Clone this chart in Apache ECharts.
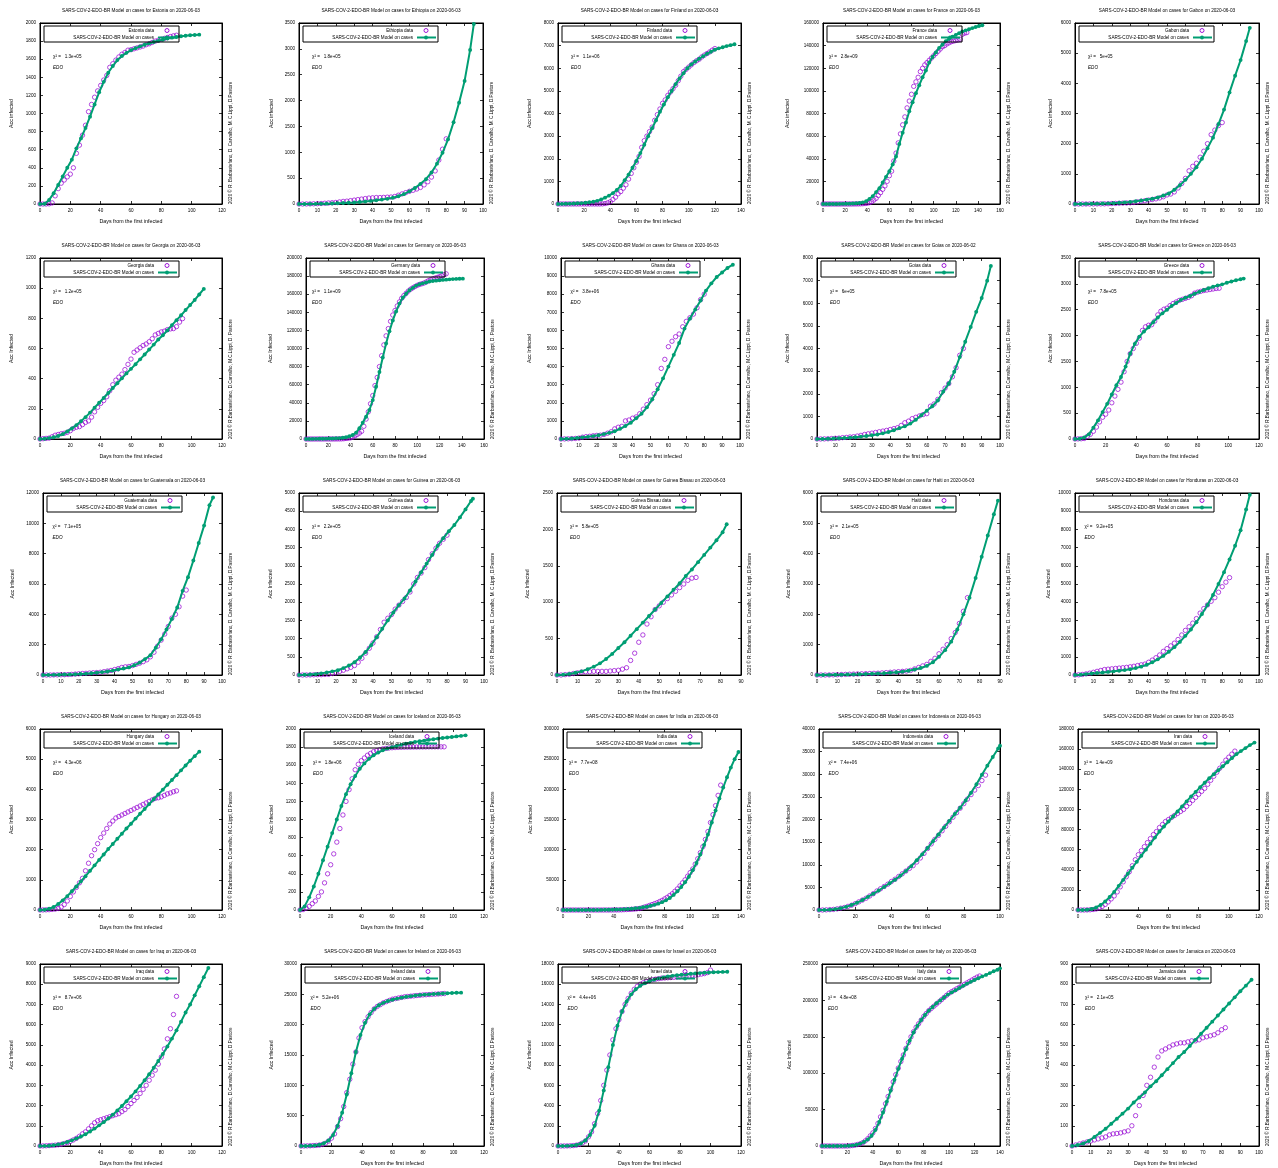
<!DOCTYPE html>
<html><head><meta charset="utf-8">
<script src="https://cdn.jsdelivr.net/npm/echarts@6/dist/echarts.min.js"></script>
<style>html,body{margin:0;padding:0;background:#fff}#c{width:1278px;height:1168px}</style>
</head><body><div id="c"></div>
<script>
const DATA_STEP = 2;   // data arrays: one value every 2 days from day 0
const MODEL_STEP = 3;  // model arrays: one value every 3 days from day 0 (last value at modelLastDay)

const countries = ['Estonia','Ethiopia','Finland','France','Gabon','Georgia','Germany','Ghana','Goias','Greece','Guatemala','Guinea','Guinea Bissau','Haiti','Honduras','Hungary','Iceland','India','Indonesia','Iran','Iraq','Ireland','Israel','Italy','Jamaica'];
const reportDates = ['2020-06-03','2020-06-03','2020-06-03','2020-06-03','2020-06-03','2020-06-03','2020-06-03','2020-06-03','2020-06-02','2020-06-03','2020-06-03','2020-06-03','2020-06-03','2020-06-03','2020-06-03','2020-06-03','2020-06-03','2020-06-03','2020-06-03','2020-06-03','2020-06-03','2020-06-03','2020-06-03','2020-06-03','2020-06-03'];
const chiSquared = ['1.3e+05','1.8e+05','1.1e+06','2.8e+09','5e+05','1.2e+05','1.1e+09','3.8e+06','6e+05','7.8e+05','7.1e+05','2.2e+05','5.8e+05','2.1e+05','9.2e+05','4.3e+06','1.8e+06','7.7e+08','7.4e+06','1.4e+09','8.7e+06','5.2e+06','4.4e+06','4.8e+08','2.1e+05'];
const xMax  = [120,100,140,160,100,120,160,100,100,120,100,100,90,90,100,120,120,140,100,120,120,120,120,140,100];
const xStep = [20,10,20,20,10,20,20,10,10,20,10,10,10,10,10,20,20,20,20,20,20,20,20,20,10];
const yMax  = [2000,3500,8000,160000,6000,1200,200000,10000,8000,3500,12000,5000,2500,6000,10000,6000,2000,300000,40000,180000,9000,30000,18000,250000,900];
const yStep = [200,500,1000,20000,1000,200,20000,1000,1000,500,2000,500,500,1000,1000,1000,200,50000,5000,20000,1000,5000,2000,50000,100];
const modelLastDay = [105,95,135,144,95,108,141,96,95,110,95,94,83,89,95,105,108,138,100,117,111,105,111,140,96];

const estoniaData = [0,0,0,2,12,90,170,230,265,300,330,400,560,650,760,870,1020,1100,1180,1250,1310,1370,1420,1510,1550,1590,1625,1655,1675,1700,1705,1715,1725,1735,1745,1760,1770,1785,1800,1810,1820,1830,1840,1850,1858,1865];
const estoniaModel = [0,2,45,118,210,305,400,490,615,725,840,965,1100,1235,1350,1450,1525,1590,1635,1670,1700,1722,1742,1760,1775,1790,1803,1815,1828,1838,1846,1853,1859,1864,1868,1871];
const ethiopiaData = [0,0,1,2,4,6,10,15,20,25,30,40,50,55,65,75,85,95,105,115,120,125,125,128,132,135,145,170,195,220,245,265,290,320,370,430,520,640,850,1060,1260];
const ethiopiaModel = [0,1,2,3,5,7,10,14,18,24,30,38,48,60,72,85,100,120,150,190,245,310,390,480,610,780,990,1250,1580,1960,2380,2980,3480];
const finlandData = [1,1,1,1,1,1,1,1,1,1,1,1,1,1,1,1,2,5,20,50,100,200,300,450,550,700,850,1100,1350,1600,1850,2100,2500,2800,3000,3200,3400,3700,3950,4200,4450,4600,4800,4950,5100,5250,5450,5650,5850,5950,6050,6150,6250,6330,6400,6500,6580,6650,6720,6800,6870];
const finlandModel = [0,5,10,15,20,30,40,55,75,100,140,200,280,370,480,620,800,1050,1300,1600,1900,2250,2620,3000,3350,3700,4080,4400,4720,5000,5300,5550,5780,6000,6170,6300,6420,6530,6640,6730,6820,6880,6930,6980,7020,7060];
const franceData = [0,0,0,0,0,0,0,0,0,0,0,0,0,10,20,50,100,150,250,400,700,1200,2000,3500,5000,7500,10000,13000,16000,20000,25000,29000,38000,45000,54000,62000,70000,77000,85000,91000,97000,104000,108000,112000,117000,120000,123000,125000,127000,129000,131000,133000,135000,137000,139000,140000,141500,142500,143500,144000,144500,145000,145500,150000,151000,151500];
const franceModel = [0,0,0,0,0,100,150,200,300,400,600,900,1400,2500,4500,7000,10500,14000,19000,24000,29000,35000,42000,53000,63000,72000,82000,90000,98000,105000,112000,118000,125000,130000,134000,138000,141000,144000,146000,148000,149500,151000,152500,153500,154500,155500,156500,157300,158000];
const gabonData = [0,0,0,0,1,2,3,4,6,10,15,20,25,30,35,40,50,70,90,110,130,150,170,200,240,300,330,400,530,680,850,1100,1250,1350,1550,1750,2000,2300,2450,2600,2700];
const gabonModel = [0,2,5,8,12,16,22,30,40,55,70,90,115,145,175,215,280,350,470,620,800,1000,1220,1500,1850,2200,2650,3130,3700,4250,4770,5400,5840];
const georgiaData = [0,2,4,6,15,25,30,35,38,44,55,70,78,82,95,110,120,145,180,210,236,255,280,320,360,390,410,430,460,495,530,575,590,605,620,630,645,665,690,700,710,715,725,730,732,745,775,798];
const georgiaModel = [0,2,6,12,20,32,50,70,92,118,145,175,208,240,272,305,338,370,402,435,465,496,528,560,593,626,660,688,720,755,788,820,855,888,922,958,995];
const germanyData = [0,0,0,0,0,10,15,16,16,16,16,16,16,20,50,100,150,300,600,900,1300,2000,3500,5000,6500,8500,14000,22000,30000,39000,48000,59000,68000,80000,92000,104000,114000,122000,130000,137000,142000,147000,151500,155500,158500,161000,163500,165500,167000,168500,169800,170800,171500,172300,173500,174800,176000,177000,177800,178600,179300,180500,181500,182500];
const germanyModel = [0,50,100,150,200,300,400,500,600,800,1000,1400,2000,3000,4400,7000,11800,18000,24600,32000,43000,57700,74000,90000,105500,119000,131000,141000,149600,156000,160500,164300,167000,169500,171000,172000,173000,174000,174600,175000,175400,175800,176100,176400,176700,176900,177100,177200];
const ghanaData = [0,5,10,20,30,50,100,130,150,180,200,210,250,320,400,560,650,700,1000,1050,1150,1220,1400,1650,1900,2150,2500,3000,3900,4400,5100,5400,5650,5800,6200,6500,6700,6900,7250,7700,8000];
const ghanaModel = [0,10,30,60,90,120,160,210,270,340,430,560,720,900,1150,1400,1750,2200,2750,3350,4000,4650,5300,6100,6650,7150,7650,8200,8600,8950,9200,9450,9630];
const goiasData = [0,2,5,10,20,30,40,60,70,90,100,130,160,200,230,260,290,320,350,380,420,460,500,600,720,790,900,960,1020,1080,1120,1450,1550,1750,2050,2250,2450,2750,3150,3700,4000];
const goiasModel = [0,5,12,20,30,45,60,80,105,135,165,200,250,310,390,480,560,680,850,1050,1250,1450,1700,2100,2450,2970,3620,4300,4950,5620,6230,7000,7650];
const greeceData = [0,2,5,10,50,90,150,230,330,420,480,560,700,830,960,1100,1300,1500,1650,1750,1850,1950,2100,2170,2200,2210,2280,2400,2470,2510,2530,2580,2620,2650,2680,2700,2720,2740,2770,2820,2840,2855,2870,2880,2890,2900,2910,2915];
const greeceModel = [0,5,30,90,220,360,520,680,860,1040,1200,1400,1650,1840,1980,2080,2160,2260,2350,2430,2500,2574,2630,2690,2730,2765,2810,2845,2880,2915,2945,2970,2990,3020,3045,3070,3090,3102];
const guatemalaData = [0,0,0,5,10,15,20,30,40,60,80,100,110,130,150,160,180,220,260,300,360,420,500,540,560,620,700,780,880,1000,1200,1500,1900,2300,2700,3200,3750,4000,4500,5200,5600];
const guatemalaModel = [0,5,10,20,30,40,50,70,90,120,150,190,230,290,360,430,500,640,815,1050,1300,1800,2350,3000,3700,4450,5550,6450,7550,8700,9850,11200,11700];
const guineaData = [0,0,0,2,5,8,10,15,20,40,60,100,130,170,210,260,350,460,600,734,880,1050,1250,1450,1560,1660,1810,1920,2020,2130,2280,2500,2680,2800,2950,3170,3330,3480,3620,3730,3840];
const guineaModel = [0,5,12,25,45,70,100,130,190,260,350,480,630,820,1040,1270,1500,1720,1920,2100,2320,2570,2820,3060,3300,3550,3760,3950,4120,4330,4550,4780,4844];
const guineaBissauData = [0,0,5,10,20,30,40,45,45,50,50,50,50,55,60,65,80,100,200,300,450,550,700,800,900,950,1000,1050,1100,1150,1200,1250,1300,1330,1340];
const guineaBissauModel = [0,5,15,30,50,80,115,160,220,290,370,450,540,630,720,810,900,990,1080,1170,1260,1360,1450,1550,1650,1750,1850,1960,2070];
const haitiData = [0,0,0,2,5,8,15,20,25,30,35,40,45,50,55,60,70,80,90,100,110,120,130,150,200,250,300,350,450,550,700,850,1000,1200,1400,1700,2100,2550];
const haitiModel = [0,2,5,8,12,16,20,25,32,40,50,60,75,90,110,140,180,230,300,420,600,820,1100,1500,2000,2550,3200,3900,4600,5300,5750];
const hondurasData = [0,10,30,60,100,150,200,250,300,320,340,360,380,400,420,450,480,520,560,600,700,820,950,1100,1300,1450,1600,1750,1950,2200,2450,2650,2850,3100,3400,3650,3850,4050,4250,4550,4850,5100,5350];
const hondurasModel = [0,20,50,80,110,140,170,200,230,270,320,380,460,560,700,860,1050,1280,1530,1820,2150,2500,2900,3350,3850,4400,5000,5650,6350,7100,7950,9100,9900];
const hungaryData = [0,2,5,10,20,30,50,100,180,300,450,600,750,900,1050,1300,1550,1800,2000,2200,2400,2550,2700,2850,2950,3050,3100,3150,3200,3250,3300,3350,3400,3450,3500,3550,3600,3650,3700,3720,3750,3800,3850,3880,3920,3950];
const hungaryModel = [0,10,40,100,200,320,460,620,780,950,1120,1300,1480,1660,1840,2020,2190,2360,2530,2700,2860,3030,3190,3350,3510,3670,3830,3990,4150,4310,4470,4630,4790,4950,5100,5250];
const icelandData = [0,5,20,40,70,100,150,200,300,400,500,620,750,900,1050,1200,1330,1450,1550,1610,1650,1680,1710,1730,1750,1760,1770,1780,1785,1790,1793,1795,1797,1798,1799,1800,1800,1801,1801,1802,1802,1802,1803,1803,1803,1803,1803,1803];
const icelandModel = [0,40,140,260,400,550,700,850,1000,1150,1280,1390,1480,1560,1620,1670,1710,1740,1765,1785,1800,1812,1825,1837,1847,1856,1864,1872,1880,1887,1894,1900,1906,1912,1918,1924,1930];
const indiaData = [0,0,0,0,0,0,0,0,0,0,0,0,0,0,0,1,3,5,10,30,60,100,150,300,500,700,900,1200,1500,2000,2500,3500,4800,6000,7500,9000,10500,12000,14000,16000,18500,21000,24000,27000,31000,35000,40000,45000,50000,56000,62000,68000,76000,85000,95000,105000,117000,130000,145000,158000,173000,190000,207000];
const indiaModel = [0,0,0,0,0,0,0,0,50,100,200,300,400,600,800,1000,1300,1700,2200,2800,3500,4500,5500,7000,8500,10500,13000,16000,20000,25000,31000,38000,46000,55000,66000,78000,92000,108000,125000,145000,165000,185000,203000,220000,236000,250000,262000];
const indonesiaData = [0,2,30,80,130,250,400,550,800,1050,1400,1800,2200,2600,3100,3600,4200,4700,5200,5700,6300,6800,7400,8000,8600,9200,9800,10600,11500,12500,13600,14600,15600,16500,17500,18500,19500,20500,21500,22500,23500,24500,25500,26500,27500,28600,29800];
const indonesiaModel = [0,20,80,200,400,700,1100,1600,2200,2900,3600,4300,5100,5900,6700,7600,8600,9700,11000,12300,13700,15200,16700,18200,19700,21200,22600,24200,25900,27800,29900,31900,33800,35700,36300];
const iranData = [0,0,10,50,200,500,1000,2000,3500,5500,8000,11000,14000,18000,23000,28000,33000,38000,44000,50000,55000,59000,63000,67000,71000,75000,78000,82000,85000,88000,90000,92000,94000,96000,98000,100000,103000,106000,109000,112000,115000,118000,121000,125000,129000,133000,137000,141000,145000,149000,152000,155000,158000];
const iranModel = [0,50,300,1000,2500,5000,8500,13000,18000,24000,30000,36000,42000,48000,54000,60000,66000,72000,78000,83000,88000,93000,98000,103000,108000,113000,117500,122000,126500,131000,135000,139000,143000,147000,151000,155000,158000,161000,164000,166500];
const iraqData = [0,5,10,20,30,40,60,80,120,170,230,300,380,480,600,700,850,1000,1150,1250,1300,1350,1400,1450,1500,1550,1600,1700,1800,1950,2100,2250,2400,2600,2800,3000,3250,3500,3750,4050,4400,4800,5300,5800,6500,7400];
const iraqModel = [0,5,15,40,80,130,200,280,370,470,580,720,860,1020,1180,1360,1550,1760,1980,2210,2450,2700,2970,3250,3550,3870,4200,4550,4920,5310,5720,6150,6600,7000,7450,7900,8350,8800];
const irelandData = [0,5,20,40,70,100,150,250,450,800,1300,2000,3200,4500,6500,8800,11000,13500,15500,17800,19500,20500,21300,22000,22600,23000,23300,23600,23800,24000,24200,24300,24400,24500,24600,24650,24700,24750,24800,24850,24900,24930,24960,25000,25030,25060,25100,25130];
const irelandModel = [0,10,30,80,200,450,900,1800,3300,5500,8500,12000,15500,18300,20300,21700,22600,23200,23600,23900,24100,24300,24450,24600,24700,24800,24880,24950,25000,25050,25100,25140,25180,25220,25250,25280];
const israelData = [0,2,5,10,20,40,80,150,300,500,900,1400,2200,3200,4500,6000,7500,9000,10500,11600,12500,13300,14000,14600,15100,15500,15800,16000,16150,16250,16350,16450,16500,16550,16600,16620,16640,16660,16680,16700,16720,16740,16760,16800,16850,16900,16950,17000,17050,17150,17400];
const israelModel = [0,5,15,40,100,250,550,1100,2000,3500,5500,7800,10000,11900,13300,14300,15000,15500,15850,16100,16300,16450,16580,16680,16760,16830,16890,16940,16990,17030,17070,17100,17130,17160,17180,17200,17220,17240];
const italyData = [2,2,2,2,3,3,3,3,3,3,3,300,700,1200,2000,3000,4500,7000,10000,14000,18000,24000,31000,40000,49000,58000,68000,78000,88000,98000,107000,116000,125000,134000,142000,150000,157000,163000,168000,173000,178000,182000,186000,189000,192000,195000,198000,201000,204000,207000,210000,212000,214000,216000,218000,220000,222000,224000,226000,228000,230000,232000,233500];
const italyModel = [0,0,0,0,10,50,150,400,900,1800,3200,5500,9000,14000,22000,33000,46000,61000,76000,91000,106000,120000,133000,145000,156000,165000,173000,180000,186000,191000,196000,200000,204000,208000,211000,214000,217000,220000,223000,225500,228000,230500,233000,235000,237500,240000,242000,244000];
const jamaicaData = [0,5,10,15,20,25,30,35,40,45,55,60,62,65,70,75,100,150,200,250,300,340,390,440,470,480,490,500,505,510,510,515,520,520,525,535,540,545,550,560,575,585];
const jamaicaModel = [0,5,12,25,45,65,85,110,135,160,185,215,240,265,295,320,350,380,410,440,465,495,525,555,585,615,645,675,705,735,765,793,822];

const dataSets = [estoniaData,ethiopiaData,finlandData,franceData,gabonData,georgiaData,germanyData,ghanaData,goiasData,greeceData,guatemalaData,guineaData,guineaBissauData,haitiData,hondurasData,hungaryData,icelandData,indiaData,indonesiaData,iranData,iraqData,irelandData,israelData,italyData,jamaicaData];
const modelSets = [estoniaModel,ethiopiaModel,finlandModel,franceModel,gabonModel,georgiaModel,germanyModel,ghanaModel,goiasModel,greeceModel,guatemalaModel,guineaModel,guineaBissauModel,haitiModel,hondurasModel,hungaryModel,icelandModel,indiaModel,indonesiaModel,iranModel,iraqModel,irelandModel,israelModel,italyModel,jamaicaModel];

// ---- layout (pixel boxes of each plot: left, right, top, bottom, y-name gap) ----
const boxes = [
 [40,222,23,204,28],[299,483,23,204,27],[558,741,23,204,28],[823,1000,23,204,35],[1075,1259,23,204,24],
 [40,222,258,439,28],[306,484,258,439,35],[561,740,258,439,31],[817,1000,258,439,29],[1075,1259,258,439,24],
 [43,222,493,675,30],[299,484,493,675,28],[557,741,493,675,29],[817,1000,493,675,28],[1075,1259,493,675,26],
 [40,222,729,910,28],[300,484,729,910,28],[563,741,729,910,32],[819,1000,729,910,30],[1078,1259,729,910,30],
 [40,222,964,1146,28],[301,484,964,1146,29],[558,741,964,1146,28],[822,1000,964,1146,32],[1072,1259,964,1146,24]
];
const FONT = 'Liberation Sans';
const PURPLE = '#9400d3', GREEN = '#009e73';
const credit1 = '2020 \u00A9 R. Barbastefano, D. Carvalho, M. C.Lippi, D.Pastore';
const credit2 = '2020 \u00A9 R.Barbastefano, D.Carvalho, M.C.Lippi, D. Pastore';
const credit3 = '2020 \u00A9 R.Barbastefano, D.Carvalho, M.C.Lippi, D.Pastore';

const grids = [], xAxes = [], yAxes = [], series = [], graphics = [];
function txt(x, y, text, size, align, vAlign, rot, extra) {
  const el = {type:'text', x:x, y:y, z:50, silent:true,
    style:Object.assign({text:text, fill:'#000', fontSize:size, fontFamily:FONT, align:align||'center', verticalAlign:vAlign||'middle'}, extra||{})};
  if (rot) el.rotation = rot;
  graphics.push(el);
}
const plain = v => String(v);
countries.forEach((name, k) => {
  const [L, R, T, B, gap] = boxes[k];
  const row = Math.floor(k / 5);
  grids.push({left:L, top:T, width:R-L, height:B-T, show:true, borderColor:'#000', borderWidth:1, backgroundColor:'transparent', containLabel:false});
  const tick = {show:true, inside:true, length:3, lineStyle:{color:'#000', width:0.8}};
  const line = {show:true, onZero:false, lineStyle:{color:'#000', width:1}};
  const lab = {show:true, fontSize:4.6, color:'#000', fontFamily:FONT, margin:4.5, formatter:plain};
  xAxes.push({gridIndex:k, type:'value', position:'bottom', min:0, max:xMax[k], interval:xStep[k], axisLine:line, axisTick:tick, axisLabel:lab, splitLine:{show:false}});
  xAxes.push({gridIndex:k, type:'value', position:'top', min:0, max:xMax[k], interval:xStep[k], axisLine:line, axisTick:tick, axisLabel:{show:false}, splitLine:{show:false}});
  yAxes.push({gridIndex:k, type:'value', position:'left', min:0, max:yMax[k], interval:yStep[k], axisLine:line, axisTick:tick, axisLabel:Object.assign({}, lab, {margin:4}), splitLine:{show:false}});
  yAxes.push({gridIndex:k, type:'value', position:'right', min:0, max:yMax[k], interval:yStep[k], axisLine:line, axisTick:tick, axisLabel:{show:false}, splitLine:{show:false}});

  const d = dataSets[k].map((v, i) => [i * DATA_STEP, v]);
  const mArr = modelSets[k];
  const m = mArr.map((v, i) => [i === mArr.length - 1 ? modelLastDay[k] : i * MODEL_STEP, v]);
  series.push({type:'scatter', name:name + ' data', xAxisIndex:2*k, yAxisIndex:2*k, data:d, symbol:'circle', symbolSize:4.4,
    itemStyle:{color:'rgba(0,0,0,0)', borderColor:PURPLE, borderWidth:0.9}, silent:true, z:2});
  series.push({type:'line', name:'SARS-COV-2-EDO-BR Model on cases', xAxisIndex:2*k, yAxisIndex:2*k, data:m, symbol:'circle', symbolSize:3.9, showSymbol:true,
    lineStyle:{color:GREEN, width:2}, itemStyle:{color:GREEN}, silent:true, z:3});

  const cx = (L + R) / 2;
  txt(cx, T - 12.5, 'SARS-COV-2-EDO-BR Model on cases for ' + name + ' on ' + reportDates[k], 4.7);
  txt(cx, B + 18, 'Days from the first infected', 5.3);
  txt(L - gap, (T + B) / 2, row === 0 ? 'Acc infected' : 'Acc Infected', 5.3, 'center', 'middle', Math.PI / 2);
  txt(R + 9, B, row === 1 ? credit2 : (row === 0 || row === 2 ? credit1 : credit3), 4.6, 'left', 'middle', Math.PI / 2);
  const digits = String(yMax[k]).length;
  const chiX = L + 13 - Math.max(0, digits - 4) * 3.5;
  txt(chiX, T + 34, '\u03C7\u00B2 =   ' + chiSquared[k], 4.6, 'left');
  txt(chiX, T + 45, 'EDO', 4.6, 'left', 'middle', 0, {fontStyle:'italic'});
  // key box
  const bx = L + 4, by = T + 3;
  graphics.push({type:'rect', z:50, silent:true, shape:{x:bx, y:by, width:135, height:16}, style:{fill:'none', stroke:'#000', lineWidth:1}});
  txt(bx + 110, by + 4.5, name + ' data', 4.6, 'right');
  graphics.push({type:'circle', z:50, silent:true, shape:{cx:bx + 123, cy:by + 4.5, r:2}, style:{fill:'none', stroke:PURPLE, lineWidth:0.9}});
  txt(bx + 110, by + 11.5, 'SARS-COV-2-EDO-BR Model on cases', 4.6, 'right');
  graphics.push({type:'line', z:50, silent:true, shape:{x1:bx + 114, y1:by + 11.5, x2:bx + 133, y2:by + 11.5}, style:{stroke:GREEN, lineWidth:2}});
  graphics.push({type:'circle', z:50, silent:true, shape:{cx:bx + 123, cy:by + 11.5, r:1.9}, style:{fill:GREEN}});
});

const chart = echarts.init(document.getElementById('c'), null, {renderer:'canvas', width:1278, height:1168});
chart.setOption({
  animation:false,
  backgroundColor:'#fff',
  grid:grids, xAxis:xAxes, yAxis:yAxes, series:series, graphic:graphics
});
</script>
</body></html>
